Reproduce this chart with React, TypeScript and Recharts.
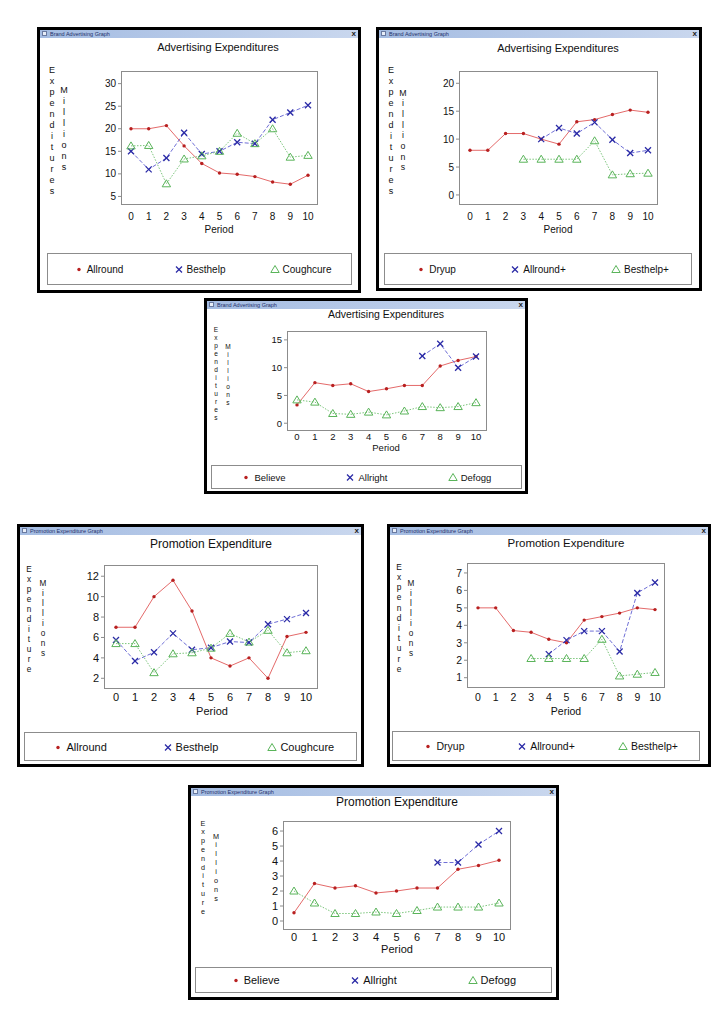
import { Line, LineChart, XAxis, YAxis } from "recharts";

const FONT = '"Liberation Sans", Arial, sans-serif';

const PERIODS = [0, 1, 2, 3, 4, 5, 6, 7, 8, 9, 10];

// Advertising expenditures (millions)
const AD_ALLROUND = [20, 20, 20.7, 16.2, 12.3, 10.2, 9.9, 9.4, 8.2, 7.7, 9.7];
const AD_BESTHELP = [15, 11, 13.5, 19.1, 14.4, 15, 17, 16.7, 22, 23.6, 25.2];
const AD_COUGHCURE = [16.2, 16.3, 7.8, 13.3, 14, 15, 19, 16.7, 20, 13.7, 14.1];
const AD1_TICKS = [5, 10, 15, 20, 25, 30];

const AD_DRYUP = [8, 8, 11, 11, 10, 9.1, 13.1, 13.5, 14.4, 15.2, 14.8];
const AD_ALLROUND_PLUS = [null, null, null, null, 10, 12, 11, 13, 9.9, 7.5, 8];
const AD_BESTHELP_PLUS = [null, null, null, 6.4, 6.4, 6.4, 6.4, 9.7, 3.6, 3.8, 3.9];
const AD2_TICKS = [0, 5, 10, 15, 20];

const AD_BELIEVE = [3.3, 7.3, 6.8, 7.1, 5.7, 6.2, 6.8, 6.8, 10.3, 11.3, 12];
const AD_ALLRIGHT = [null, null, null, null, null, null, null, 12.1, 14.3, 10, 12];
const AD_DEFOGG = [4.2, 3.8, 1.75, 1.6, 2.0, 1.5, 2.2, 3.0, 2.8, 3.0, 3.7];
const AD3_TICKS = [0, 5, 10, 15];

// Promotion expenditure (millions)
const PR_ALLROUND = [7, 7, 10, 11.6, 8.6, 4, 3.2, 4, 2, 6.1, 6.5];
const PR_BESTHELP = [5.75, 3.7, 4.55, 6.4, 4.8, 5.0, 5.6, 5.5, 7.3, 7.8, 8.4];
const PR_COUGHCURE = [5.4, 5.4, 2.55, 4.4, 4.5, 4.95, 6.4, 5.55, 6.7, 4.5, 4.7];
const PR1_TICKS = [2, 4, 6, 8, 10, 12];

const PR_DRYUP = [5, 5, 3.7, 3.6, 3.2, 3.0, 4.3, 4.5, 4.7, 5, 4.9];
const PR_ALLROUND_PLUS = [null, null, null, null, 2.35, 3.15, 3.67, 3.67, 2.5, 5.85, 6.45];
const PR_BESTHELP_PLUS = [null, null, null, 2.1, 2.1, 2.1, 2.1, 3.2, 1.1, 1.2, 1.3];
const PR2_TICKS = [1, 2, 3, 4, 5, 6, 7];

const PR_BELIEVE = [0.55, 2.5, 2.2, 2.35, 1.87, 2.0, 2.2, 2.2, 3.45, 3.7, 4.05];
const PR_ALLRIGHT = [null, null, null, null, null, null, null, 3.9, 3.9, 5.1, 6.0];
const PR_DEFOGG = [2.0, 1.2, 0.5, 0.5, 0.6, 0.5, 0.7, 0.93, 0.93, 0.93, 1.2];
const PR3_TICKS = [0, 1, 2, 3, 4, 5, 6];

const STYLE = {
  dot: { line: "#e46a6a", mark: "#b82020", dash: undefined },
  x: { line: "#6e6ed6", mark: "#2a2aa6", dash: "4 2" },
  tri: { line: "#7cc67c", mark: "#5ab45a", dash: "1.5 1.5" },
};

function Marker({ kind, cx, cy }: { kind: string; cx: number; cy: number }) {
  if (kind === "dot") return <circle cx={cx} cy={cy} r={1.7} fill={STYLE.dot.mark} />;
  if (kind === "x") {
    const s = 3;
    return (
      <g stroke={STYLE.x.mark} strokeWidth={1.3}>
        <line x1={cx - s} y1={cy - s} x2={cx + s} y2={cy + s} />
        <line x1={cx - s} y1={cy + s} x2={cx + s} y2={cy - s} />
      </g>
    );
  }
  return (
    <path
      d={`M${cx},${cy - 4} L${cx + 4.2},${cy + 3} L${cx - 4.2},${cy + 3} Z`}
      fill="none"
      stroke={STYLE.tri.mark}
      strokeWidth={1}
    />
  );
}

const WINDOWS = [
  {
    id: "ad1", bar: "Brand Advertising Graph", title: "Advertising Expenditures", yLabel: "Expenditures",
    left: 37, top: 27, w: 324, h: 266, plot: { x: 84, y: 44, w: 197, h: 134 }, pad: [10, 10],
    domain: [3.1, 32.8], ticks: AD1_TICKS, titleAt: [181, 20], periodAt: [182, 203], tickGap: 11,
    legend: { x: 10, y: 226, w: 305, h: 32 }, eAt: [15, 43, 11], mAt: [27, 63, 11], font: 10,
    series: [
      { name: "Allround", values: AD_ALLROUND, kind: "dot" },
      { name: "Besthelp", values: AD_BESTHELP, kind: "x" },
      { name: "Coughcure", values: AD_COUGHCURE, kind: "tri" },
    ],
  },
  {
    id: "ad2", bar: "Brand Advertising Graph", title: "Advertising Expenditures", yLabel: "Expenditures",
    left: 376, top: 27, w: 326, h: 264, plot: { x: 83, y: 44, w: 199, h: 134 }, pad: [11, 10],
    domain: [-1.8, 22.2], ticks: AD2_TICKS, titleAt: [182, 21], periodAt: [182, 203], tickGap: 11,
    legend: { x: 8, y: 226, w: 308, h: 32 }, eAt: [15, 43, 11], mAt: [27, 66, 10.7], font: 10,
    series: [
      { name: "Dryup", values: AD_DRYUP, kind: "dot" },
      { name: "Allround+", values: AD_ALLROUND_PLUS, kind: "x" },
      { name: "Besthelp+", values: AD_BESTHELP_PLUS, kind: "tri" },
    ],
  },
  {
    id: "ad3", bar: "Brand Advertising Graph", title: "Advertising Expenditures", yLabel: "Expenditures",
    left: 204, top: 298, w: 324, h: 196, plot: { x: 83, y: 33, w: 200, h: 100 }, pad: [10, 11],
    domain: [-1.4, 16.6], ticks: AD3_TICKS, titleAt: [182, 16], periodAt: [182, 150], tickGap: 6,
    legend: { x: 7, y: 167, w: 311, h: 24 }, eAt: [12, 32, 8], mAt: [24, 49, 8], font: 9.5,
    series: [
      { name: "Believe", values: AD_BELIEVE, kind: "dot" },
      { name: "Allright", values: AD_ALLRIGHT, kind: "x" },
      { name: "Defogg", values: AD_DEFOGG, kind: "tri" },
    ],
  },
  {
    id: "pr1", bar: "Promotion Expenditure Graph", title: "Promotion Expenditure", yLabel: "Expenditure",
    left: 17, top: 524, w: 347, h: 243, plot: { x: 87, y: 41, w: 214, h: 124 }, pad: [12, 12],
    domain: [0.95, 13.1], ticks: PR1_TICKS, titleAt: [194, 20], periodAt: [195, 187], tickGap: 8,
    legend: { x: 7, y: 208, w: 333, h: 29 }, eAt: [12, 46, 10], mAt: [26, 60, 10], font: 11,
    series: [
      { name: "Allround", values: PR_ALLROUND, kind: "dot" },
      { name: "Besthelp", values: PR_BESTHELP, kind: "x" },
      { name: "Coughcure", values: PR_COUGHCURE, kind: "tri" },
    ],
  },
  {
    id: "pr2", bar: "Promotion Expenditure Graph", title: "Promotion Expenditure", yLabel: "Expenditure",
    left: 387, top: 524, w: 324, h: 243, plot: { x: 80, y: 39, w: 198, h: 125 }, pad: [11, 10],
    domain: [0.41, 7.57], ticks: PR2_TICKS, titleAt: [179, 19], periodAt: [179, 187], tickGap: 9,
    legend: { x: 5, y: 207, w: 308, h: 30 }, eAt: [12, 43, 10.2], mAt: [24, 60, 10], font: 10.5,
    series: [
      { name: "Dryup", values: PR_DRYUP, kind: "dot" },
      { name: "Allround+", values: PR_ALLROUND_PLUS, kind: "x" },
      { name: "Besthelp+", values: PR_BESTHELP_PLUS, kind: "tri" },
    ],
  },
  {
    id: "pr3", bar: "Promotion Expenditure Graph", title: "Promotion Expenditure", yLabel: "Expenditure",
    left: 188, top: 785, w: 371, h: 215, plot: { x: 95, y: 36, w: 228, h: 109 }, pad: [11, 12],
    domain: [-0.6, 6.67], ticks: PR3_TICKS, titleAt: [209, 17], periodAt: [209, 164], tickGap: 7,
    legend: { x: 7, y: 182, w: 357, h: 26 }, eAt: [15, 39, 8.8], mAt: [28, 52, 8.9], font: 11,
    series: [
      { name: "Believe", values: PR_BELIEVE, kind: "dot" },
      { name: "Allright", values: PR_ALLRIGHT, kind: "x" },
      { name: "Defogg", values: PR_DEFOGG, kind: "tri" },
    ],
  },
];

type Win = (typeof WINDOWS)[number];

// vertically stacked axis caption, one letter per row
function Letters({ text, at, font }: { text: string; at: number[]; font: number }) {
  const [cx, cy, step] = at;
  const size = Math.min(font, step * 0.82);
  return (
    <div
      style={{
        position: "absolute", left: cx - 6, top: cy - step / 2, width: 12,
        textAlign: "center", fontSize: size, lineHeight: `${step}px`, color: "#111",
      }}
    >
      {text.split("").map((c, i) => (
        <div key={i} style={{ height: step, overflow: "visible" }}>{c}</div>
      ))}
    </div>
  );
}

function ChartWindow({ w }: { w: Win }) {
  const YW = 30;
  const XH = 20;
  const data = PERIODS.map((p, i) => {
    const row: Record<string, number | null> = { period: p };
    w.series.forEach((s, j) => (row[`s${j}`] = s.values[i]));
    return row;
  });
  const margin = {
    top: w.plot.y,
    left: w.plot.x - YW,
    right: w.w - w.plot.x - w.plot.w,
    bottom: w.h - w.plot.y - w.plot.h - XH,
  };
  const tick = { fontSize: w.font, fill: "#111", fontFamily: FONT };

  return (
    <div style={{ position: "absolute", left: w.left, top: w.top, width: w.w, height: w.h, background: "#fff" }}>
      {/* title bar */}
      <div
        style={{
          position: "absolute", left: 3, right: 3, top: 3, height: 8,
          background: "linear-gradient(to right, #a4bce2, #c9d7ee)",
          fontSize: 5.5, lineHeight: "8px", color: "#24306a", paddingLeft: 10, boxSizing: "border-box",
        }}
      >
        <span style={{ position: "absolute", left: 2, top: 1, width: 5, height: 5, background: "#e8eef8", border: "1px solid #6a7aa0", boxSizing: "border-box" }} />
        {w.bar}
        <span style={{ position: "absolute", right: 2, top: 0, fontSize: 8, lineHeight: "8px", fontWeight: "bold", color: "#222" }}>x</span>
      </div>

      <div style={{ position: "absolute", left: w.titleAt[0] - 150, top: w.titleAt[1] - 7, width: 300, textAlign: "center", fontSize: w.font + 1, lineHeight: "14px", color: "#111" }}>
        {w.title}
      </div>

      <Letters text={w.yLabel} at={w.eAt} font={w.font} />
      <Letters text="Millions" at={w.mAt} font={w.font} />

      <div style={{ position: "absolute", left: w.plot.x, top: w.plot.y, width: w.plot.w, height: w.plot.h, border: "1px solid #8c8c8c", boxSizing: "border-box" }} />

      <div style={{ position: "absolute", left: 0, top: 0 }}>
        <LineChart width={w.w} height={w.h} data={data} margin={margin}>
          <XAxis
            dataKey="period"
            type="number"
            domain={[0, 10]}
            ticks={PERIODS}
            padding={{ left: w.pad[0], right: w.pad[1] }}
            axisLine={false}
            tickLine={false}
            tickSize={0}
            tickMargin={w.tickGap - 3.5}
            height={XH}
            tick={tick}
            interval={0}
          />
          <YAxis
            type="number"
            domain={w.domain}
            ticks={w.ticks}
            allowDataOverflow
            axisLine={false}
            tickLine={{ stroke: "#8c8c8c" }}
            tickSize={3}
            tickMargin={2}
            width={YW}
            tick={tick}
            interval={0}
          />
          {w.series.map((s, j) => (
            <Line
              key={s.name}
              dataKey={`s${j}`}
              name={s.name}
              type="linear"
              stroke={STYLE[s.kind as keyof typeof STYLE].line}
              strokeWidth={1}
              strokeDasharray={STYLE[s.kind as keyof typeof STYLE].dash}
              isAnimationActive={false}
              activeDot={false}
              dot={(p: any) =>
                p.value == null || p.cy == null ? (
                  <g key={`d${j}-${p.index}`} />
                ) : (
                  <g key={`d${j}-${p.index}`}>
                    <Marker kind={s.kind} cx={p.cx} cy={p.cy} />
                  </g>
                )
              }
            />
          ))}
        </LineChart>
      </div>

      <div style={{ position: "absolute", left: w.periodAt[0] - 50, top: w.periodAt[1] - 7, width: 100, textAlign: "center", fontSize: w.font, lineHeight: "14px", color: "#111" }}>
        Period
      </div>

      <div
        style={{
          position: "absolute", left: w.legend.x, top: w.legend.y, width: w.legend.w, height: w.legend.h,
          border: "1px solid #8c8c8c", boxSizing: "border-box", display: "flex", alignItems: "center",
        }}
      >
        {w.series.map((s) => (
          <div key={s.name} style={{ flex: 1, display: "flex", justifyContent: "center", alignItems: "center", fontSize: w.font, color: "#111" }}>
            <svg width={10} height={10} style={{ marginRight: 3 }}>
              <Marker kind={s.kind} cx={5} cy={5.5} />
            </svg>
            {s.name}
          </div>
        ))}
      </div>

      <div style={{ position: "absolute", inset: 0, border: "3px solid #000", boxSizing: "border-box", pointerEvents: "none" }} />
    </div>
  );
}

export default function App() {
  return (
    <div style={{ position: "absolute", left: 0, top: 0, width: 728, height: 1030, background: "#fff", fontFamily: FONT }}>
      {WINDOWS.map((w) => (
        <ChartWindow key={w.id} w={w} />
      ))}
    </div>
  );
}
